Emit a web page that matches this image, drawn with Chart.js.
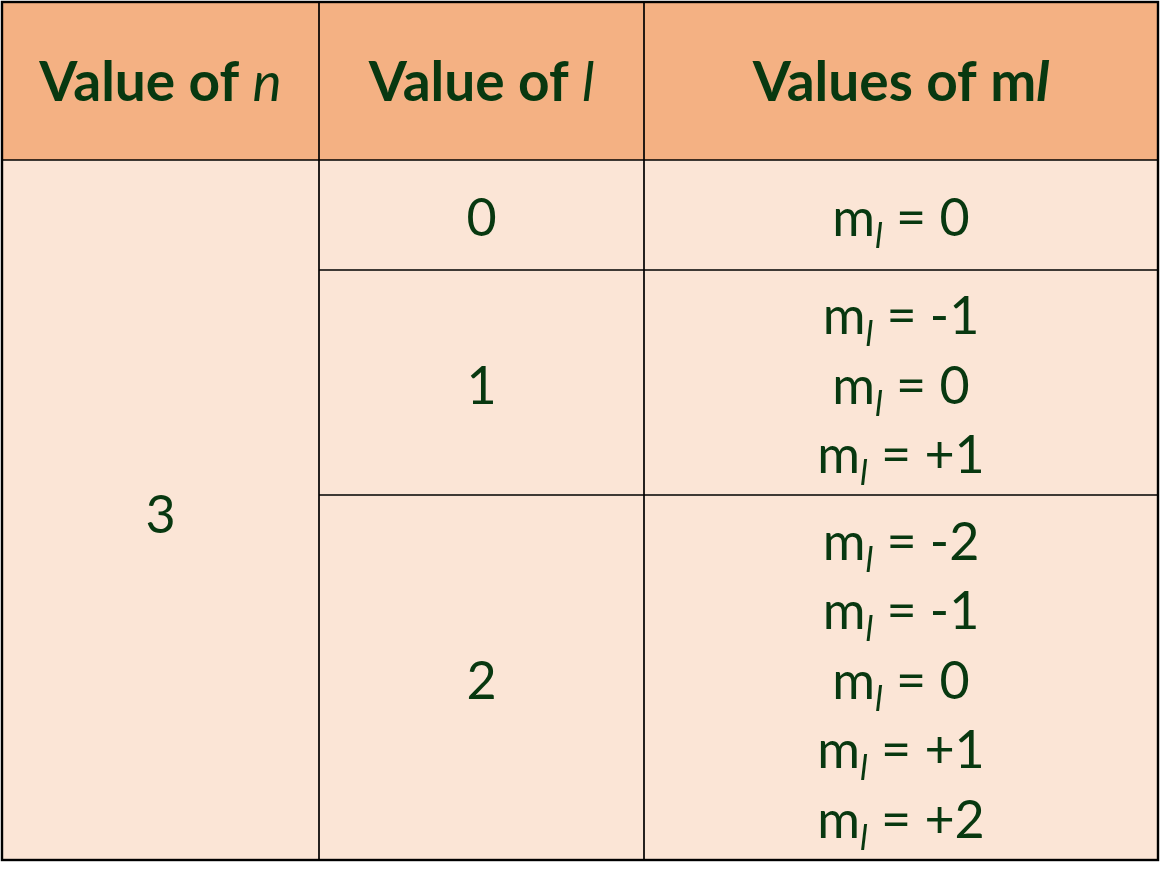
<!DOCTYPE html>
<html>
<head>
<meta charset="utf-8">
<title>Values of n, l and ml</title>
<script src="https://cdn.jsdelivr.net/npm/chart.js@4.4.1/dist/chart.umd.min.js"></script>
<style>
  html, body { margin: 0; padding: 0; background: #ffffff; overflow: hidden; }
  canvas { display: block; }
</style>
</head>
<body>
<canvas id="table-chart" width="1161" height="889"></canvas>
<script>
// --- Table content ---
const headerLabels = [['Value of ', 'n'], ['Value of ', 'l'], ['Values of m', 'l']];
const nValues = [3];
const lValues = [0, 1, 2];
const mlValues = [[0], [-1, 0, 1], [-2, -1, 0, 1, 2]];

// --- Layout (scale units, the axes run 0..1161 and 0..889) ---
const colEdges = [2, 319, 644, 1158];
const headerEdges = [2, 160];
const rowHeights = [110, 225, 365];
const linePitch = 69.5;

const colors = { header: '#f4b183', body: '#fbe5d6', text: '#083810', rule: '#000000' };
const fontFamily = 'Lato, "Open Sans", sans-serif';
const fontSize = 52;
const headerSize = 55;
const subSize = 34;

const rowEdges = [headerEdges[1]];
rowHeights.forEach(h => rowEdges.push(rowEdges[rowEdges.length - 1] + h));

const colCenter = i => (colEdges[i] + colEdges[i + 1]) / 2;
const rowCenter = i => (rowEdges[i] + rowEdges[i + 1]) / 2;
const fmtMl = v => (v > 0 ? '+' + v : String(v));

// text anchors, one point per line of text
const anchors = [];
headerLabels.forEach((parts, i) => {
    const thirdBold = i === 2;
    anchors.push({
        x: colCenter(i), y: (headerEdges[0] + headerEdges[1]) / 2,
        runs: [
            { t: parts[0], weight: 'bold', size: headerSize },
            { t: parts[1], weight: thirdBold ? 'bold' : 'normal', italic: true, size: headerSize }
        ]
    });
});
anchors.push({
    x: colCenter(0), y: (rowEdges[0] + rowEdges[rowEdges.length - 1]) / 2 + 4,
    runs: [{ t: String(nValues[0]) }]
});
lValues.forEach((l, r) => {
    anchors.push({ x: colCenter(1), y: rowCenter(r) + 2, runs: [{ t: String(l) }] });
    const list = mlValues[r];
    list.forEach((m, k) => {
        anchors.push({
            x: colCenter(2),
            y: rowCenter(r) + 2 + (k - (list.length - 1) / 2) * linePitch,
            runs: [
                { t: 'm' },
                { t: 'l', italic: true, sub: true },
                { t: ' = ' + fmtMl(m) }
            ]
        });
    });
});

function runFont(run) {
    const size = run.sub ? subSize : (run.size || fontSize);
    return `${run.italic ? 'italic ' : ''}${run.weight || 'normal'} ${size}px ${fontFamily}`;
}

/**
 * Draws the cell fills and rules through the chart scales,
 * then the cell texts at the dataset's point positions.
 */
const cellsPlugin = {
    id: 'tableCells',
    beforeDatasetsDraw(chart) {
        const { ctx, scales: { x, y } } = chart;
        const px = v => x.getPixelForValue(v);
        const py = v => y.getPixelForValue(v);
        const left = px(colEdges[0]), right = px(colEdges[3]);
        const top = py(headerEdges[0]), bottom = py(rowEdges[rowEdges.length - 1]);

        ctx.save();
        ctx.fillStyle = colors.header;
        ctx.fillRect(left, top, right - left, py(headerEdges[1]) - top);
        ctx.fillStyle = colors.body;
        ctx.fillRect(left, py(headerEdges[1]), right - left, bottom - py(headerEdges[1]));

        ctx.strokeStyle = colors.rule;
        ctx.lineWidth = 1.7;
        ctx.beginPath();
        [1, 2].forEach(i => {
            ctx.moveTo(px(colEdges[i]), top);
            ctx.lineTo(px(colEdges[i]), bottom);
        });
        ctx.moveTo(left, py(headerEdges[1]));
        ctx.lineTo(right, py(headerEdges[1]));
        for (let r = 1; r < rowEdges.length - 1; r++) {
            ctx.moveTo(px(colEdges[1]), py(rowEdges[r]));
            ctx.lineTo(right, py(rowEdges[r]));
        }
        ctx.stroke();

        ctx.lineWidth = 2.4;
        ctx.strokeRect(left, top, right - left, bottom - top);
        ctx.restore();
    },
    afterDatasetsDraw(chart) {
        const { ctx } = chart;
        const meta = chart.getDatasetMeta(0);
        ctx.save();
        ctx.fillStyle = colors.text;
        ctx.textBaseline = 'alphabetic';
        ctx.textAlign = 'left';
        meta.data.forEach((pt, i) => {
            const runs = chart.data.datasets[0].data[i].runs;
            ctx.font = runFont(runs[0]);
            const capH = ctx.measureText('0').actualBoundingBoxAscent;
            const widths = runs.map(run => { ctx.font = runFont(run); return ctx.measureText(run.t).width; });
            const total = widths.reduce((a, b) => a + b, 0);
            let cx = pt.x - total / 2;
            const base = pt.y + capH / 2;
            runs.forEach((run, j) => {
                ctx.font = runFont(run);
                ctx.fillText(run.t, cx, base + (run.sub ? 12 : 0));
                cx += widths[j];
            });
        });
        ctx.restore();
    }
};

const tableChart = new Chart(document.getElementById('table-chart'), {
    type: 'scatter',
    data: {
        datasets: [{ data: anchors, pointRadius: 0, pointHoverRadius: 0 }]
    },
    options: {
        responsive: false,
        animation: false,
        devicePixelRatio: 1,
        layout: { padding: 0 },
        events: [],
        plugins: { legend: { display: false }, tooltip: { enabled: false } },
        scales: {
            x: { type: 'linear', display: false, min: 0, max: 1161 },
            y: { type: 'linear', display: false, min: 0, max: 889, reverse: true }
        }
    },
    plugins: [cellsPlugin]
});
</script>
</body>
</html>
